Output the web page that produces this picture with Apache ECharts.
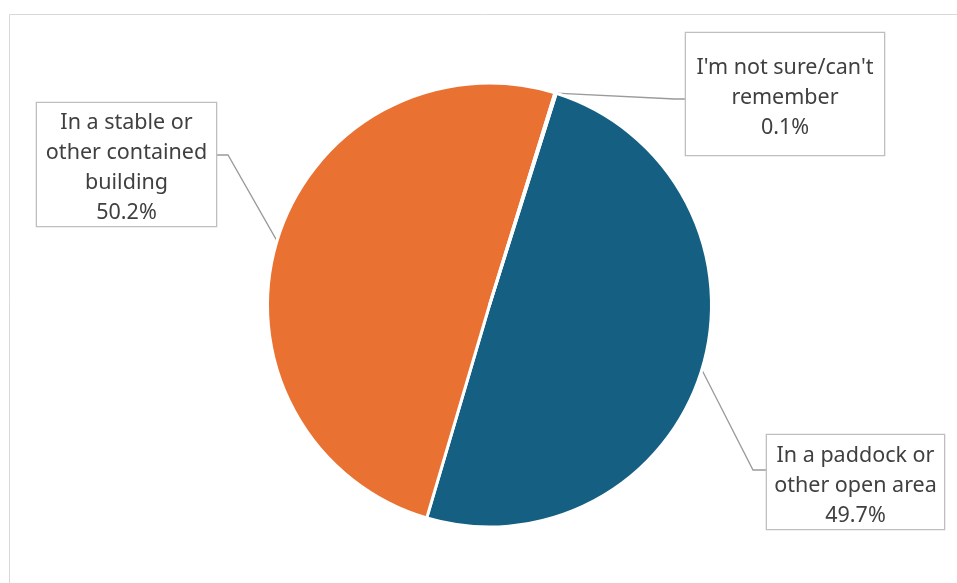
<!DOCTYPE html>
<html>
<head>
<meta charset="utf-8">
<script src="https://cdn.jsdelivr.net/npm/echarts@6/dist/echarts.min.js"></script>
<style>
html,body{margin:0;padding:0;background:#fff;}
#chart{width:957px;height:583px;}
</style>
</head>
<body>
<div id="chart"></div>
<script>
// ---- data ----
const categories = [
  'In a paddock or\nother open area',
  'In a stable or\nother contained\nbuilding',
  "I'm not sure/can't\nremember"
];
const values = [49.7, 50.2, 0.1];
const colors = ['#156082', '#E97132', '#196B24'];

// ---- label box layout (positions only) ----
const labelBoxes = [
  { left: 766, top: 435, w: 179, h: 96, lines: 3, edgeX: 766, bendX: 753, lineY: 470 },
  { left: 36,  top: 103, w: 181, h: 125, lines: 4, edgeX: 217, bendX: 228, lineY: 155 },
  { left: 685, top: 33,  w: 200, h: 124, lines: 3, edgeX: 685, bendX: 675, lineY: 99 }
];
const LH = 30;
const SHIFT = 3.5;

const chart = echarts.init(document.getElementById('chart'), null, { renderer: 'canvas' });

const seriesData = categories.map((name, i) => {
  const b = labelBoxes[i];
  const pv = (b.h - b.lines * LH) / 2;
  return {
    name: name,
    value: values[i],
    itemStyle: { color: colors[i] },
    label: {
      width: b.w - 2,
      padding: [pv - 1 + SHIFT, 0, pv - 1 - SHIFT, 0]
    }
  };
});

chart.setOption({
  animation: false,
  backgroundColor: '#ffffff',
  graphic: [{
    type: 'rect',
    silent: true,
    shape: { x: 9.5, y: 14.5, width: 1000, height: 700 },
    style: { fill: 'none', stroke: '#d9d9d9', lineWidth: 1 }
  }],
  series: [{
    type: 'pie',
    center: [489.5, 305],
    radius: 222,
    startAngle: 72.5,
    clockwise: true,
    avoidLabelOverlap: false,
    itemStyle: { borderColor: '#ffffff', borderWidth: 3 },
    emphasis: { disabled: true },
    label: {
      show: true,
      position: 'outside',
      overflow: 'none',
      fontFamily: 'Noto Sans',
      fontSize: 21.5,
      lineHeight: LH,
      color: '#404040',
      align: 'center',
      backgroundColor: '#ffffff',
      borderColor: '#bfbfbf',
      borderWidth: 1.3,
      formatter: p => p.name + '\n' + p.value.toFixed(1) + '%'
    },
    labelLine: {
      show: true,
      length: 20,
      length2: 20,
      lineStyle: { color: '#9a9a9a', width: 1.3 }
    },
    labelLayout: function (params) {
      const b = labelBoxes[params.dataIndex];
      const anchor = (params.labelLinePoints && params.labelLinePoints[0]) || [b.bendX, b.lineY];
      return {
        x: b.left + b.w / 2,
        y: b.top,
        align: 'center',
        verticalAlign: 'top',
        labelLinePoints: [anchor, [b.bendX, b.lineY], [b.edgeX, b.lineY]]
      };
    },
    data: seriesData
  }]
});
</script>
</body>
</html>
